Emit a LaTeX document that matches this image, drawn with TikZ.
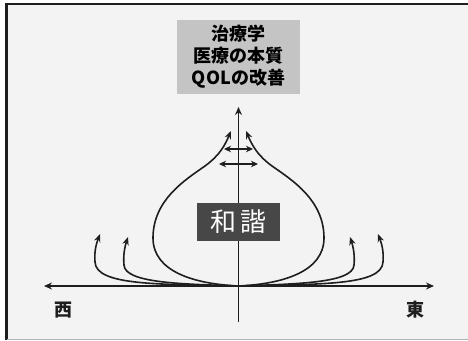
\documentclass[tikz,border=0pt]{standalone}
\usepackage{fontspec}
\newfontfamily\jpfont{Noto Sans CJK JP}
\usetikzlibrary{arrows.meta}
\definecolor{bgfill}{HTML}{F3F3F3}
\definecolor{topfill}{HTML}{C4C4C4}
\definecolor{darkfill}{HTML}{474747}
\definecolor{ink}{HTML}{1E1E1E}
\tikzset{
  axis/.style={draw=ink, line width=1.7pt, -{Stealth[length=8pt,width=7pt]}},
  flow/.style={draw=ink, line width=1.6pt, -{Stealth[length=8pt,width=6.5pt]}},
  twoway/.style={draw=ink, line width=1.6pt, {Stealth[length=7pt,width=6.5pt]}-{Stealth[length=7pt,width=6.5pt]}},
  topbox/.style={fill=topfill, minimum width=123pt, minimum height=74pt, inner sep=0pt, align=center,
     font=\jpfont\bfseries\fontsize{18}{22}\selectfont},
  harmony/.style={fill=darkfill, text=white, minimum width=83pt, minimum height=38pt, inner sep=0pt,
     font=\jpfont\fontsize{26}{28}\selectfont},
  dirlabel/.style={font=\jpfont\bfseries\fontsize{18}{19}\selectfont, text=ink}
}
\begin{document}
\begin{tikzpicture}[x=1pt,y=-1pt]
\useasboundingbox (0,0) rectangle (468,340);
% frame
\fill[bgfill] (6.5,4) rectangle (470,339);
\draw[ink, line width=2.5pt] (6.5,340) -- (6.5,4) -- (470,4);
\draw[gray!60, line width=0.8pt] (6.5,339) -- (470,339);
% top box
\node[topbox] (top) at (238.5,57) {治療学\\医療の本質\\QOLの改善};
% axes
\coordinate (o) at (238.5,286);
\coordinate (vb) at (238.5,322);
\coordinate (vt) at (238.5,107);
\coordinate (hl) at (44,286);
\coordinate (hr) at (434,286);
\draw[axis] (vb) -- (vt);
\draw[axis] (o) -- (hl);
\draw[axis] (o) -- (hr);
% labels
\node[dirlabel] (west) at (63,310) {西};
\node[dirlabel] (east) at (415,310) {東};
% onion
\coordinate (ltip) at (231,131);
\coordinate (rtip) at (246,131);
\draw[flow] (o) .. controls (195,284) and (153,272) .. (153,238)
   .. controls (153,200) and (185,180) .. (205,166)
   .. controls (220,155) and (225,145) .. (ltip);
\draw[flow] (o) .. controls (282,284) and (324,272) .. (324,238)
   .. controls (324,200) and (292,180) .. (272,166)
   .. controls (257,155) and (252,145) .. (rtip);
% side arrows
\coordinate (lo) at (100,234);
\coordinate (li) at (128,237);
\coordinate (ri) at (350,237);
\coordinate (ro) at (378,234);
\draw[flow] (o) .. controls (160,284) and (96,286) .. (95,262) .. controls (94,250) and (97,242) .. (lo);
\draw[flow] (o) .. controls (180,284) and (125,283) .. (124,265) .. controls (123,255) and (125,246) .. (li);
\draw[flow] (o) .. controls (298,284) and (353,283) .. (354,265) .. controls (355,255) and (353,246) .. (ri);
\draw[flow] (o) .. controls (318,284) and (382,286) .. (383,262) .. controls (384,250) and (381,242) .. (ro);
% double arrows
\coordinate (a1) at (224,149);
\coordinate (a2) at (253,149);
\coordinate (b1) at (219,164);
\coordinate (b2) at (258,164);
\draw[twoway] (a1) -- (a2);
\draw[twoway] (b1) -- (b2);
% harmony box
\node[harmony] (wa) at (238.5,222) {和\hspace{5pt}諧};
\end{tikzpicture}
\end{document}
